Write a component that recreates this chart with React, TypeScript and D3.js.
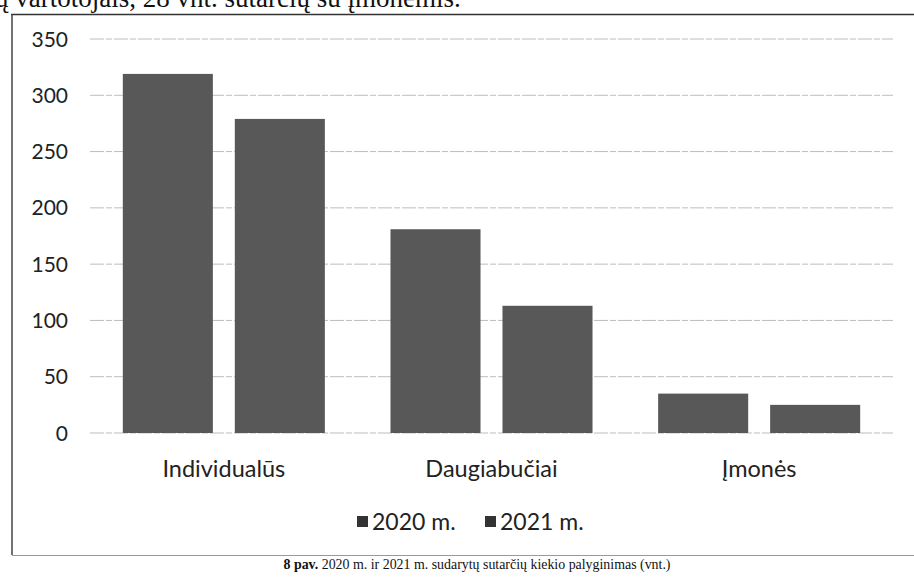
import React from "react";
import * as d3 from "d3";

const categories = ["Individualūs", "Daugiabučiai", "Įmonės"];
const seriesNames = ["2020 m.", "2021 m."];
const values2020 = [319, 181, 35];
const values2021 = [279, 113, 25];
const yTicks = [0, 50, 100, 150, 200, 250, 300, 350];
const topText = "ų vartotojais, 28 vnt. sutarčių su įmonėmis.";
const captionBold = "8 pav.";
const captionRest = " 2020 m. ir 2021 m. sudarytų sutarčių kiekio palyginimas (vnt.)";

const W = 914;
const H = 579;
const plot = { left: 90, right: 893, top: 39, bottom: 433 };
const font = "Lato, 'Open Sans', sans-serif";
const barColor = "#585858";

export default function App() {
  const y = d3.scaleLinear().domain([0, 350]).range([plot.bottom, plot.top]);
  const x0 = d3.scaleBand<string>().domain(categories).range([plot.left, plot.right]).padding(0);
  const x1 = d3
    .scaleBand<string>()
    .domain(seriesNames)
    .range([0, x0.bandwidth()])
    .paddingInner(0.196)
    .paddingOuter(0.293);
  const series = [values2020, values2021];

  return (
    <svg
      width={W}
      height={H}
      viewBox={`0 0 ${W} ${H}`}
      style={{ position: "absolute", left: 0, top: 0, background: "#fff" }}
    >
      <rect x={0} y={0} width={W} height={H} fill="#fff" />
      {/* clipped top text */}
      <text x={-5} y={7} fontFamily="'Liberation Serif', 'DejaVu Serif', serif" fontSize={27} fill="#111">
        {topText}
      </text>
      {/* frame */}
      <line x1={11} x2={W} y1={14.5} y2={14.5} stroke="#333" strokeWidth={1.5} />
      <line x1={12} x2={12} y1={14} y2={555} stroke="#444" strokeWidth={1.5} />
      <line x1={12} x2={W} y1={555.5} y2={555.5} stroke="#999" strokeWidth={1.2} />

      {/* grid */}
      {yTicks.map((t) => (
        <g key={t}>
          <line
            x1={plot.left}
            x2={plot.right}
            y1={y(t)}
            y2={y(t)}
            stroke="#bdbdbd"
            strokeWidth={1}
            strokeDasharray="14 2 6 2"
          />
          <text
            x={68}
            y={y(t)}
            dy="0.36em"
            textAnchor="end"
            fontFamily={font}
            fontSize={21}
            fill="#222"
          >
            {t}
          </text>
        </g>
      ))}

      {/* bars */}
      {categories.map((c, i) => (
        <g key={c} transform={`translate(${x0(c)},0)`}>
          {seriesNames.map((s, j) => (
            <rect
              key={s}
              x={x1(s)}
              y={y(series[j][i])}
              width={x1.bandwidth()}
              height={y(0) - y(series[j][i])}
              fill={barColor}
            />
          ))}
          <text
            x={x0.bandwidth() / 2}
            y={477}
            textAnchor="middle"
            fontFamily={font}
            fontSize={23.5}
            fill="#222"
          >
            {c}
          </text>
        </g>
      ))}

      {/* legend */}
      {seriesNames.map((s, j) => {
        const lx = 357 + j * 128;
        return (
          <g key={s}>
            <rect x={lx} y={516} width={11} height={11} fill="#333" />
            <text x={lx + 15} y={530} fontFamily={font} fontSize={23} fill="#222">
              {s}
            </text>
          </g>
        );
      })}

      {/* caption */}
      <text
        x={477}
        y={569}
        textAnchor="middle"
        fontFamily="'Liberation Serif', 'DejaVu Serif', serif"
        fontSize={13.9}
        fill="#111"
      >
        <tspan fontWeight="bold">{captionBold}</tspan>
        <tspan>{captionRest}</tspan>
      </text>
    </svg>
  );
}
